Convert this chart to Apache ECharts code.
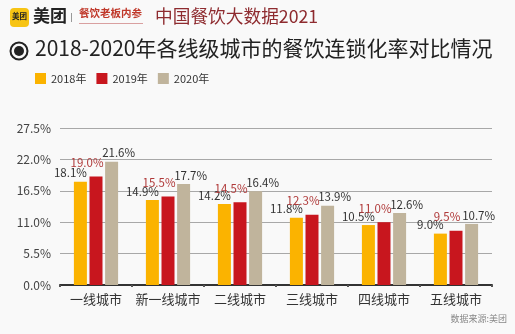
<!DOCTYPE html>
<html><head><meta charset="utf-8">
<script src="https://cdn.jsdelivr.net/npm/echarts@6/dist/echarts.min.js"></script>
<style>html,body{margin:0;padding:0;background:#f9f9f9;}#c{width:515px;height:334px;}</style>
</head><body><div id="c"></div>
<script>
const categories = ['一线城市','新一线城市','二线城市','三线城市','四线城市','五线城市'];
const years = ['2018年','2019年','2020年'];
const v2018 = [18.1, 14.9, 14.2, 11.8, 10.5, 9.0];
const v2019 = [19.0, 15.5, 14.5, 12.3, 11.0, 9.5];
const v2020 = [21.6, 17.7, 16.4, 13.9, 12.6, 10.7];
const yTicks = [0, 5.5, 11, 16.5, 22, 27.5];

const font = '"Noto Sans CJK SC", "Noto Sans", sans-serif';
const chart = echarts.init(document.getElementById('c'));
function lbl(color, off) {
  return {show:true, position:'top', distance:3, offset:off, color:color, fontSize:11.5, fontFamily:font,
    formatter: p => p.value.toFixed(1) + '%'};
}
chart.setOption({
  backgroundColor:'#f9f9f9',
  animation:false,
  textStyle:{fontFamily:font},
  legend:{left:30, top:68, itemWidth:11, itemHeight:11, itemGap:10, icon:'rect',
    textStyle:{fontSize:11, color:'#333', fontFamily:font}, data:years},
  grid:{left:60, right:23, top:128, bottom:49},
  xAxis:{type:'category', data:categories,
    axisLine:{lineStyle:{color:'#333', width:2}},
    axisTick:{show:true, length:2, lineStyle:{color:'#555', width:2}},
    axisLabel:{interval:0, fontSize:13, color:'#333', margin:8, fontFamily:font}},
  yAxis:{type:'value', min:yTicks[0], max:yTicks[yTicks.length-1], interval:yTicks[1]-yTicks[0],
    axisLabel:{fontSize:12, color:'#444', margin:9, formatter:v => v.toFixed(1)+'%', fontFamily:font},
    axisLine:{show:false}, axisTick:{show:false},
    splitLine:{lineStyle:{color:'#a8a8a8', width:1}}},
  series:[
    {name:years[0], type:'bar', data:v2018, barWidth:13, barGap:'20%', itemStyle:{color:'#FBB300'}, label:lbl('#333',[-10,0])},
    {name:years[1], type:'bar', data:v2019, barWidth:13, barGap:'20%', itemStyle:{color:'#C8161E'}, label:lbl('#B03A3A',[-9,-5])},
    {name:years[2], type:'bar', data:v2020, barWidth:13, barGap:'20%', itemStyle:{color:'#C0B49C'}, label:lbl('#333',[7,0])}
  ],
  graphic:[
    {type:'rect', left:10, top:8, shape:{width:19, height:19, r:4}, style:{fill:'#F7C414'}},
    {type:'text', left:12, top:12, style:{text:'美团', fontSize:7.5, fontWeight:'bold', fill:'#222', fontFamily:font}},
    {type:'text', left:33, top:7, style:{text:'美团', fontSize:17, fontWeight:'bold', fill:'#222', fontFamily:font}},
    {type:'rect', left:71, top:13, shape:{width:1, height:9}, style:{fill:'#999'}},
    {type:'text', left:79, top:8, style:{text:'餐饮老板内参', fontSize:10.5, fontWeight:'bold', fill:'#C0392B', fontFamily:font}},
    {type:'rect', left:79, top:23, shape:{width:64, height:1}, style:{fill:'#d9a0a0'}},
    {type:'text', left:155, top:7, style:{text:'中国餐饮大数据2021', fontSize:17.7, fill:'#8E2B2F', fontFamily:font}},
    {type:'circle', shape:{cx:19, cy:51, r:8.5}, style:{fill:'none', stroke:'#222', lineWidth:2}},
    {type:'circle', shape:{cx:19, cy:51, r:5}, style:{fill:'#222'}},
    {type:'text', left:35, top:38, style:{text:'2018-2020年各线级城市的餐饮连锁化率对比情况', fontSize:21, fill:'#222', fontFamily:font}},
    {type:'text', right:8, top:314, style:{text:'数据来源:美团', fontSize:9, fill:'#888', fontFamily:font}}
  ]
});
</script></body></html>
